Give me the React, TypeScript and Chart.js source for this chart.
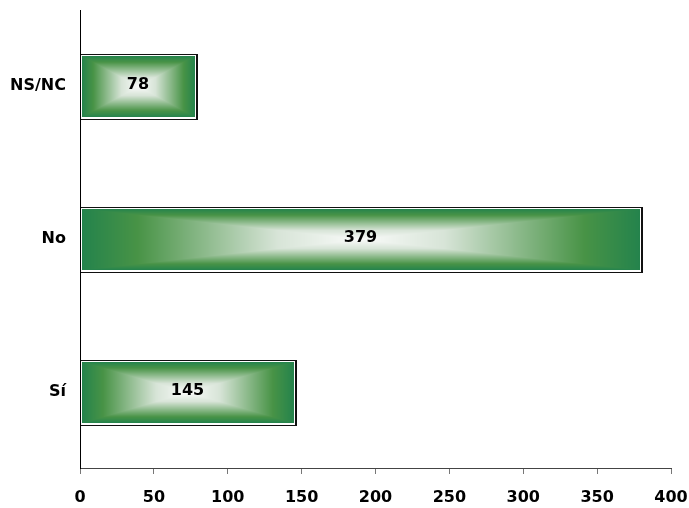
import React, { useEffect, useRef } from "react";
import { Chart, registerables } from "chart.js";
Chart.register(...registerables);

const categories = ["NS/NC", "No", "Sí"];
const values = [78, 379, 145];
const xTicks = [0, 50, 100, 150, 200, 250, 300, 350, 400];

const FONT = "'DejaVu Sans', 'Liberation Sans', Arial, sans-serif";

// gradient stops: t = 0 at centre, 1 at edge
const STOPS: [number, number[]][] = [
  [0, [250, 251, 250]],
  [0.3, [215, 228, 215]],
  [0.8, [72, 147, 70]],
  [1, [36, 131, 76]],
];

function colorAt(t: number): number[] {
  for (let i = 1; i < STOPS.length; i++) {
    const [t1, c1] = STOPS[i];
    const [t0, c0] = STOPS[i - 1];
    if (t <= t1) {
      const f = (t - t0) / (t1 - t0);
      return [0, 1, 2].map((k) => Math.round(c0[k] + (c1[k] - c0[k]) * f));
    }
  }
  return STOPS[STOPS.length - 1][1];
}

function paintBar(ctx: CanvasRenderingContext2D, x0: number, y0: number, x1: number, y1: number) {
  const w = x1 - x0;
  const h = y1 - y0;
  if (w <= 0 || h <= 0) return;
  const img = ctx.createImageData(w, h);
  const hw = w / 2;
  const hh = h / 2;
  for (let y = 0; y < h; y++) {
    const dy = Math.abs(y + 0.5 - hh) / hh;
    for (let x = 0; x < w; x++) {
      const dx = Math.abs(x + 0.5 - hw) / hw;
      const t = Math.min(1, Math.max(dx, dy));
      const c = colorAt(t);
      const idx = (y * w + x) * 4;
      img.data[idx] = c[0];
      img.data[idx + 1] = c[1];
      img.data[idx + 2] = c[2];
      img.data[idx + 3] = 255;
    }
  }
  ctx.putImageData(img, x0, y0);
}

const barPlugin = {
  id: "gradBars",
  afterDatasetsDraw(chart: any) {
    const ctx: CanvasRenderingContext2D = chart.ctx;
    const meta = chart.getDatasetMeta(0);
    meta.data.forEach((bar: any, i: number) => {
      const x0 = Math.round(bar.base);
      const x1 = Math.round(bar.x);
      const y0 = Math.round(bar.y - bar.height / 2);
      const y1 = Math.round(bar.y + bar.height / 2);
      ctx.save();
      ctx.fillStyle = "#111";
      ctx.fillRect(x0, y0 - 1, x1 - x0 + 3, y1 - y0 + 4);
      ctx.fillStyle = "#ffffff";
      ctx.fillRect(x0, y0, x1 - x0 + 1, y1 - y0 + 2);
      paintBar(ctx, x0 + 1, y0 + 1, x1, y1);
      ctx.fillStyle = "#000";
      ctx.font = "bold 16px " + FONT;
      ctx.textAlign = "center";
      ctx.textBaseline = "middle";
      ctx.fillText(String(values[i]), (x0 + x1) / 2, (y0 + y1) / 2 - 1);
      ctx.restore();
    });
    // redraw y axis line over bar start
    const area = chart.chartArea;
    ctx.save();
    ctx.strokeStyle = "#000";
    ctx.lineWidth = 1;
    ctx.beginPath();
    ctx.moveTo(area.left + 0.5, area.top);
    ctx.lineTo(area.left + 0.5, area.bottom);
    ctx.stroke();
    ctx.restore();
  },
};

export default function App() {
  const ref = useRef<HTMLCanvasElement>(null);
  useEffect(() => {
    document.body.style.margin = "0";
    const chart = new Chart(ref.current!, {
      type: "bar",
      data: {
        labels: categories,
        datasets: [
          {
            data: values,
            backgroundColor: "rgba(0,0,0,0)",
            borderWidth: 0,
            categoryPercentage: 1,
            barPercentage: 0.406,
          },
        ],
      },
      options: {
        indexAxis: "y",
        animation: false,
        responsive: false,
        maintainAspectRatio: false,
        layout: { padding: { left: 0, top: 10, right: 18, bottom: 0 } },
        plugins: { legend: { display: false }, tooltip: { enabled: false } },
        scales: {
          x: {
            type: "linear",
            min: 0,
            max: 400,
            afterBuildTicks: (s: any) => {
              s.ticks = xTicks.map((v) => ({ value: v }));
            },
            afterFit: (s: any) => {
              s.height = 40;
              s.paddingLeft = 0;
              s.paddingRight = 0;
            },
            grid: {
              drawOnChartArea: false,
              drawTicks: true,
              tickLength: 6,
              color: "#777",
            },
            border: { color: "#444", width: 1 },
            ticks: {
              color: "#000",
              padding: 14,
              font: { family: FONT, size: 16, weight: "bold" },
            },
          },
          y: {
            afterFit: (s: any) => {
              s.width = 80;
              s.paddingTop = 0;
              s.paddingBottom = 0;
            },
            grid: { display: false, drawTicks: false },
            border: { color: "#000", width: 1 },
            ticks: {
              color: "#000",
              padding: 14,
              font: { family: FONT, size: 16, weight: "bold" },
            },
          },
        },
      },
      plugins: [barPlugin],
    } as any);
    return () => chart.destroy();
  }, []);
  return (
    <div style={{ position: "absolute", left: 0, top: 0, width: 689, height: 508, background: "#fff" }}>
      <canvas ref={ref} width={689} height={508} />
    </div>
  );
}
